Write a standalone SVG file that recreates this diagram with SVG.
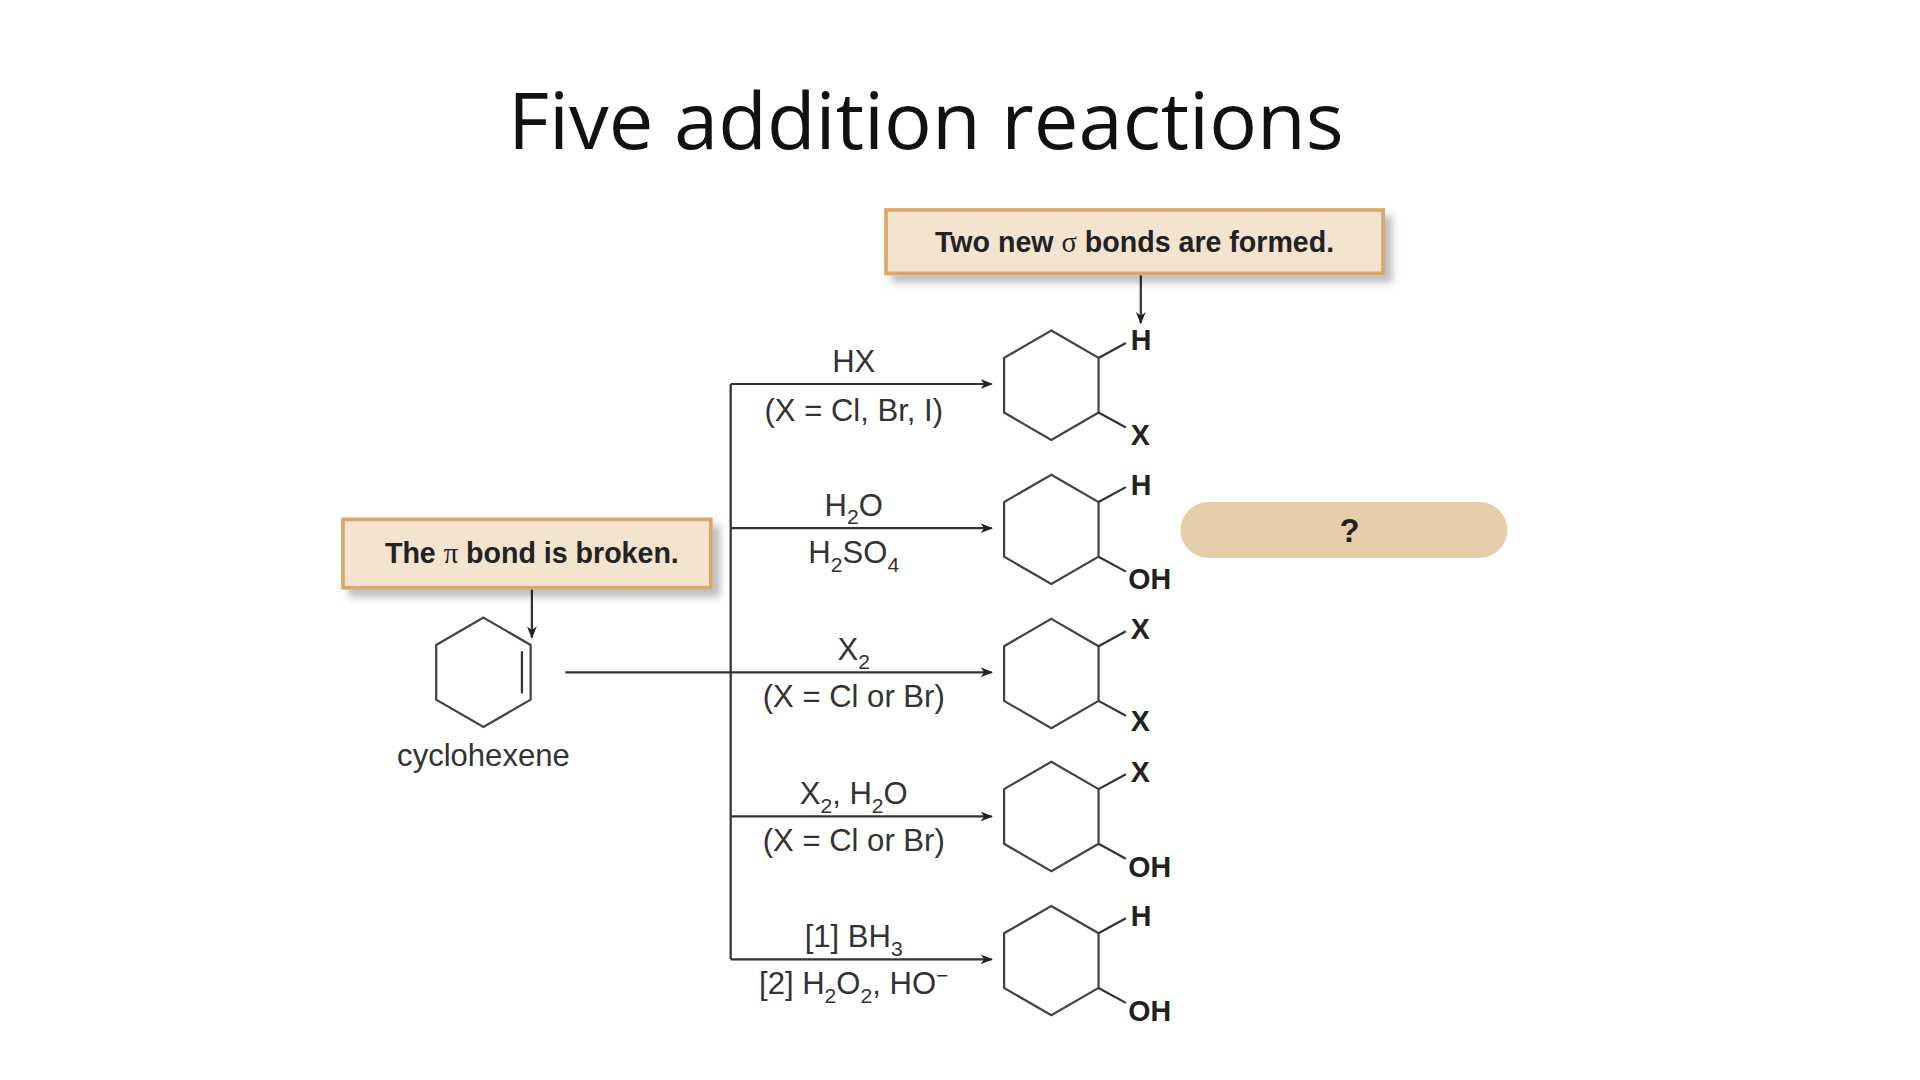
<svg xmlns="http://www.w3.org/2000/svg" width="1920" height="1080" viewBox="0 0 1920 1080">
<defs>
<marker id="ah" markerWidth="10" markerHeight="8" refX="9" refY="4" orient="auto" markerUnits="userSpaceOnUse"><path d="M0,0 L10,4 L0,8 L3,4 Z" fill="#222"/></marker>
<filter id="sh" x="-10%" y="-20%" width="130%" height="160%"><feDropShadow dx="6" dy="6" stdDeviation="3" flood-color="#000" flood-opacity="0.25"/></filter>
<polygon id="hex" points="0,-44 38,-22 38,22 0,44 -38,22 -38,-22" fill="none" stroke="#444" stroke-width="1.8"/>
</defs>
<style>
.t{font-family:"Liberation Sans",Arial,sans-serif;fill:#333;font-size:25px;text-anchor:middle}
.b{font-family:"Liberation Sans",Arial,sans-serif;fill:#222;font-size:23px;font-weight:bold}
.c{stroke:#333;stroke-width:1.8;fill:none}
.box{fill:#f3e3cf;stroke:#d9a86a;stroke-width:3}
</style>
<rect width="1920" height="1080" fill="#fff"/>
<g transform="scale(1.2427)">
<text x="745" y="120" style="font-family:'Open Sans','Liberation Sans',sans-serif;font-size:64px;fill:#111;text-anchor:middle">Five addition reactions</text>
<g id="connectors" class="c">
<line x1="918" y1="220" x2="918" y2="260" marker-end="url(#ah)"/>
<line x1="428" y1="473" x2="428" y2="513" marker-end="url(#ah)"/>
<line x1="588" y1="309" x2="588" y2="772"/>
<line x1="455" y1="541" x2="798" y2="541" marker-end="url(#ah)"/>
<line x1="588" y1="309" x2="798" y2="309" marker-end="url(#ah)"/>
<line x1="588" y1="425" x2="798" y2="425" marker-end="url(#ah)"/>
<line x1="588" y1="657" x2="798" y2="657" marker-end="url(#ah)"/>
<line x1="588" y1="772" x2="798" y2="772" marker-end="url(#ah)"/>
</g>
<g id="box-sigma"><rect class="box" x="713" y="169" width="400" height="51" filter="url(#sh)"/><text class="b" x="913" y="203" text-anchor="middle">Two new <tspan style="font-family:'Liberation Serif',serif;font-weight:normal">σ</tspan> bonds are formed.</text></g>
<g id="box-pi"><rect class="box" x="276" y="418" width="296" height="55" filter="url(#sh)"/><text class="b" x="428" y="453" text-anchor="middle">The <tspan style="font-family:'Liberation Serif',serif;font-weight:normal">π</tspan> bond is broken.</text></g>
<g id="pill"><rect x="950" y="404" width="263" height="45" rx="22.5" fill="#e5ccaa"/><text class="b" x="1086" y="436" text-anchor="middle" style="font-size:26px">?</text></g>
<g id="cyclohexene" transform="translate(389,541)"><use href="#hex"/><line class="c" x1="31" y1="-17" x2="31" y2="17"/></g>
<text class="t" x="389" y="616">cyclohexene</text>
<g id="r1"><text class="t" x="687" y="299">HX</text><text class="t" x="687" y="339">(X = Cl, Br, I)</text></g>
<g id="r2"><text class="t" x="687" y="415">H<tspan font-size="17" dy="7">2</tspan><tspan dy="-7">O</tspan></text><text class="t" x="687" y="453">H<tspan font-size="17" dy="7">2</tspan><tspan dy="-7">SO</tspan><tspan font-size="17" dy="7">4</tspan></text></g>
<g id="r3"><text class="t" x="687" y="531">X<tspan font-size="17" dy="7">2</tspan></text><text class="t" x="687" y="569">(X = Cl or Br)</text></g>
<g id="r4"><text class="t" x="687" y="647">X<tspan font-size="17" dy="7">2</tspan><tspan dy="-7">, H</tspan><tspan font-size="17" dy="7">2</tspan><tspan dy="-7">O</tspan></text><text class="t" x="687" y="685">(X = Cl or Br)</text></g>
<g id="r5"><text class="t" x="687" y="762">[1] BH<tspan font-size="17" dy="7">3</tspan></text><text class="t" x="687" y="800">[2] H<tspan font-size="17" dy="7">2</tspan><tspan dy="-7">O</tspan><tspan font-size="17" dy="7">2</tspan><tspan dy="-7">, HO</tspan><tspan font-size="17" dy="-9">−</tspan></text></g>
<g id="p1" transform="translate(846,310)"><use href="#hex"/><path class="c" d="M38,-22 L60,-34 M38,22 L60,34"/><text class="b" x="64" y="-28">H</text><text class="b" x="64" y="48">X</text></g>
<g id="p2" transform="translate(846,426)"><use href="#hex"/><path class="c" d="M38,-22 L60,-34 M38,22 L60,34"/><text class="b" x="64" y="-28">H</text><text class="b" x="62" y="48">OH</text></g>
<g id="p3" transform="translate(846,542)"><use href="#hex"/><path class="c" d="M38,-22 L60,-34 M38,22 L60,34"/><text class="b" x="64" y="-28">X</text><text class="b" x="64" y="46">X</text></g>
<g id="p4" transform="translate(846,657)"><use href="#hex"/><path class="c" d="M38,-22 L60,-34 M38,22 L60,34"/><text class="b" x="64" y="-28">X</text><text class="b" x="62" y="49">OH</text></g>
<g id="p5" transform="translate(846,773)"><use href="#hex"/><path class="c" d="M38,-22 L60,-34 M38,22 L60,34"/><text class="b" x="64" y="-28">H</text><text class="b" x="62" y="49">OH</text></g>
</g>
</svg>
